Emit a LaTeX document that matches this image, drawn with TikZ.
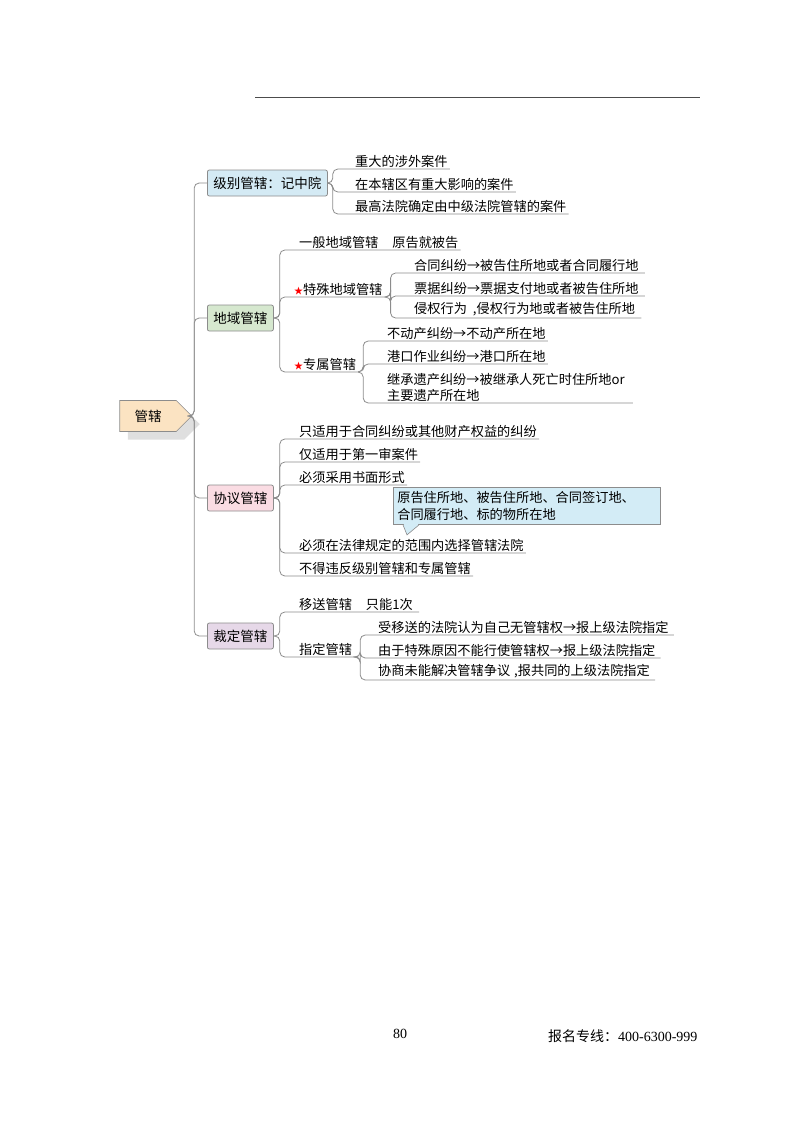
\documentclass[tikz,border=0pt]{standalone}
\usepackage{fontspec}
\setmainfont{Noto Sans CJK SC}[BoldFont={* Bold}]
\newfontfamily\serifnum{Liberation Serif}
\usetikzlibrary{shapes.symbols,shadows}
\definecolor{lineg}{HTML}{8C8C8C}
\definecolor{c1}{HTML}{D4EAF4}
\definecolor{c2}{HTML}{D6E8CF}
\definecolor{c3}{HTML}{FADCE3}
\definecolor{c4}{HTML}{E6D8E8}
\definecolor{c0}{HTML}{FBE3C2}
\definecolor{callfill}{HTML}{D3ECF6}
\tikzset{
 brbox/.style={draw=lineg,line width=0.8pt,rounded corners=2pt,font=\fontsize{13.5}{15}\selectfont,inner xsep=6pt,minimum height=26pt,anchor=west},
 leaf/.style={anchor=south west,inner xsep=2pt,inner ysep=1.5pt,font=\fontsize{13.2}{16}\selectfont,align=left},
 ul/.style={draw=lineg,line width=0.8pt,rounded corners=5pt}
}
\begin{document}
\begin{tikzpicture}[x=1pt,y=-1pt]
\useasboundingbox (0,0) rectangle (800,1124);
\draw[black!70,line width=0.8pt] (255,97) -- (700,97);

\node[signal,signal to=east,fill=c0,draw=lineg,line width=0.6pt,minimum width=72pt,minimum height=31pt,font=\fontsize{13.5}{15}\selectfont,drop shadow={shadow xshift=8pt,shadow yshift=-8pt,fill=black!25}] (root) at (148,416) {管辖};

\node[brbox,fill=c1] (b1) at (207,183) {级别管辖：记中院};
\node[brbox,fill=c2] (b2) at (207,318) {地域管辖};
\node[brbox,fill=c3] (b3) at (207,498) {协议管辖};
\node[brbox,fill=c4] (b4) at (207,636) {裁定管辖};
\foreach \b in {b1,b2,b3,b4}{\draw[ul] (root.east) -- ++(2,0) |- (\b.west);}

% level
\node[leaf] (l11) at (353,169) {重大的涉外案件};
\node[leaf] (l12) at (353,192) {在本辖区有重大影响的案件};
\node[leaf] (l13) at (353,214) {最高法院确定由中级法院管辖的案件};
\foreach \l in {l11,l12,l13}{\draw[ul] (b1.east) -- ++(5,0) |- (\l.south west) -- (\l.south east);}

% territory
\node[leaf] (l21) at (297,250) {一般地域管辖\hspace{14pt}原告就被告};
\node[leaf] (l22) at (292,297) {\textcolor{red}{\fontsize{9}{9}\selectfont★}特殊地域管辖};
\node[leaf] (l23) at (292,372) {\textcolor{red}{\fontsize{9}{9}\selectfont★}专属管辖};
\foreach \l in {l21,l22,l23}{\draw[ul] (b2.east) -- ++(6,0) |- (\l.south west) -- (\l.south east);}
\node[leaf] (l221) at (412,273) {合同纠纷→被告住所地或者合同履行地};
\node[leaf] (l222) at (412,296) {票据纠纷→票据支付地或者被告住所地};
\node[leaf] (l223) at (412,318) {侵权行为\hspace{6pt},侵权行为地或者被告住所地};
\foreach \l in {l221,l222,l223}{\draw[ul] (l22.south east) -- ++(6,0) |- (\l.south west) -- ([xshift=4pt]\l.south east);}
\node[leaf] (l231) at (385,341) {不动产纠纷→不动产所在地};
\node[leaf] (l232) at (385,364) {港口作业纠纷→港口所在地};
\node[leaf] (l233) at (385,403) {继承遗产纠纷→被继承人死亡时住所地or\\主要遗产所在地};
\draw[ul] (l23.south east) -- ++(5,0) |- (l231.south west) -- (l231.south east);
\draw[ul] (l23.south east) -- ++(5,0) |- (l232.south west) -- (l232.south east);
\draw[ul] (l23.south east) -- ++(5,0) |- (l233.south west) -- ([xshift=6pt]l233.south east);

% agreement
\node[leaf] (l31) at (297,439) {只适用于合同纠纷或其他财产权益的纠纷};
\node[leaf] (l32) at (297,462) {仅适用于第一审案件};
\node[leaf] (l33) at (297,485) {必须采用书面形式};
\node[leaf] (l34) at (297,553) {必须在法律规定的范围内选择管辖法院};
\node[leaf] (l35) at (297,576) {不得违反级别管辖和专属管辖};
\foreach \l in {l31,l32,l33,l34,l35}{\draw[ul] (b3.east) -- ++(6,0) |- (\l.south west) -- (\l.south east);}
\node[draw=lineg,fill=callfill,line width=0.6pt,anchor=north west,align=left,inner sep=4pt,text width=259pt,font=\fontsize{13.2}{17}\selectfont] (call) at (393,487) {原告住所地、被告住所地、合同签订地、\\合同履行地、标的物所在地};
\draw[draw=lineg,fill=callfill,line width=0.6pt] ([xshift=10pt]call.south west) -- ([xshift=14pt,yshift=-10pt]call.south west) -- ([xshift=26pt]call.south west);
\fill[callfill] ([xshift=10.8pt,yshift=0.4pt]call.south west) rectangle ([xshift=25.2pt,yshift=-0.5pt]call.south west);

% ruling
\node[leaf] (l41) at (297,612) {移送管辖\hspace{14pt}只能1次};
\node[leaf] (l42) at (297,657) {指定管辖};
\foreach \l in {l41,l42}{\draw[ul] (b4.east) -- ++(6,0) |- (\l.south west) -- ([xshift=4pt]\l.south east);}
\node[leaf] (l421) at (376,635) {受移送的法院认为自己无管辖权→报上级法院指定};
\node[leaf] (l422) at (376,658) {由于特殊原因不能行使管辖权→报上级法院指定};
\node[leaf] (l423) at (376,680) {协商未能解决管辖争议\hspace{4pt},报共同的上级法院指定};
\foreach \l in {l421,l422,l423}{\draw[ul] ([xshift=4pt]l42.south east) -- ++(2,0) |- (\l.south west) -- ([xshift=3pt]\l.south east);}

% footer
\node[font=\serifnum\fontsize{14}{16}\selectfont] (pg) at (400,1034) {80};
\node[anchor=east,font=\fontsize{14}{16}\selectfont] (tel) at (701,1036) {报名专线：{\serifnum 400-6300-999}};
\end{tikzpicture}
\end{document}
